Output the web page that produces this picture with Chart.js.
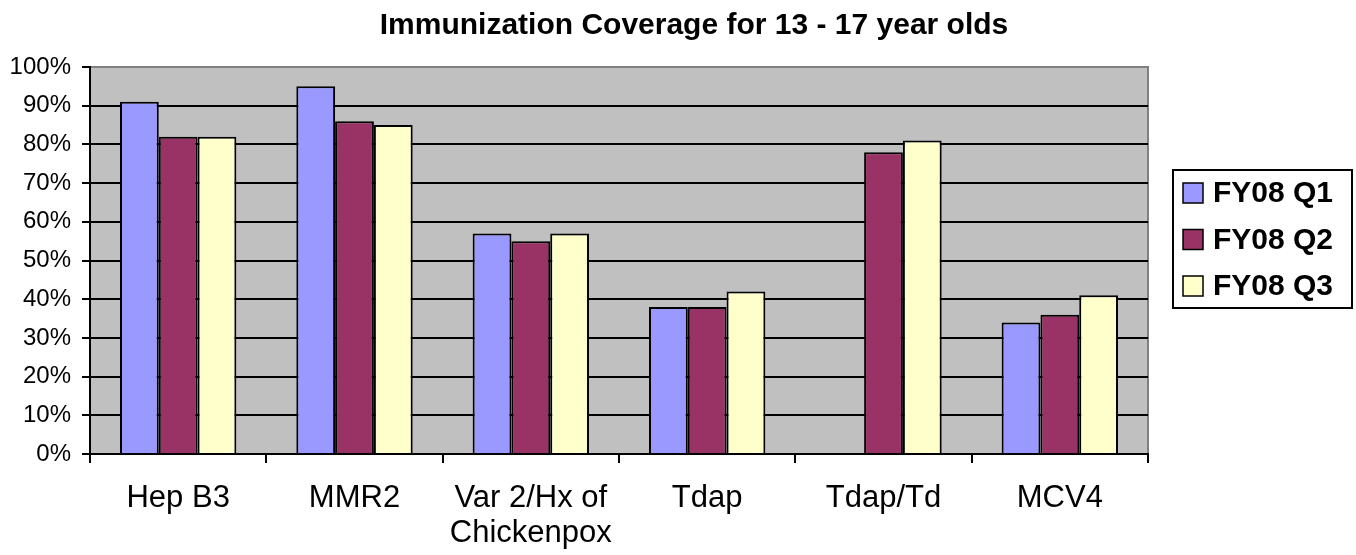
<!DOCTYPE html>
<html>
<head>
<meta charset="utf-8">
<title>Immunization Coverage</title>
<script src="https://cdn.jsdelivr.net/npm/chart.js@4.4.1/dist/chart.umd.min.js"></script>
<style>
    html, body { margin: 0; padding: 0; background: #fff; }
    #wrap { width: 1356px; height: 555px; position: relative; }
</style>
</head>
<body>
<div id="wrap"><canvas id="chart"></canvas></div>
<script>
// ===== DATA =====
const categories = ['Hep B3', 'MMR2', ['Var 2/Hx of', 'Chickenpox'], 'Tdap', 'Tdap/Td', 'MCV4'];
const seriesNames = ['FY08 Q1', 'FY08 Q2', 'FY08 Q3'];
const q1Values = [91, 95, 57, 38, null, 34];
const q2Values = [82, 86, 55, 38, 78, 36];
const q3Values = [82, 85, 57, 42, 81, 41];
const yTicks = [0, 10, 20, 30, 40, 50, 60, 70, 80, 90, 100];

const FONT = "'Liberation Sans', Arial, sans-serif";

// ===== PLOT BACKGROUND + LEGEND =====
const plotBg = {
    id: 'plotBg',
    afterLayout(chart) {
        // title sits a bit right of the plot centre in the original
        const t = chart.titleBlock;
        if (t) { t.left += 75; t.right += 75; }
    },
    beforeDraw(chart) {
        const { ctx, chartArea: a } = chart;
        ctx.save();
        ctx.fillStyle = '#C0C0C0';
        ctx.fillRect(a.left, a.top, a.right - a.left, a.bottom - a.top);
        ctx.strokeStyle = '#808080';
        ctx.lineWidth = 2;
        ctx.beginPath();
        ctx.moveTo(a.left, a.top);
        ctx.lineTo(a.right, a.top);
        ctx.lineTo(a.right, a.bottom);
        ctx.stroke();
        ctx.restore();
    }
};

const boxLegend = {
    id: 'boxLegend',
    afterDraw(chart) {
        const { ctx, chartArea: a } = chart;
        const x = a.right + 25, y = 170, w = 179, h = 138;
        ctx.save();
        ctx.fillStyle = '#fff';
        ctx.fillRect(x, y, w, h);
        ctx.strokeStyle = '#000';
        ctx.lineWidth = 2;
        ctx.strokeRect(x, y, w, h);
        ctx.font = 'bold 30px ' + FONT;
        ctx.textBaseline = 'middle';
        chart.data.datasets.forEach((ds, i) => {
            const cy = y + 23 + i * 46.5;
            ctx.fillStyle = ds.backgroundColor;
            ctx.fillRect(x + 10, cy - 10, 20, 20);
            ctx.lineWidth = 1.5;
            ctx.strokeRect(x + 10, cy - 10, 20, 20);
            ctx.fillStyle = '#000';
            ctx.fillText(ds.label, x + 40, cy + 1);
        });
        ctx.restore();
    }
};

// ===== CHART =====
const colors = ['#9999FF', '#993366', '#FFFFCC'];
const seriesData = [q1Values, q2Values, q3Values];

new Chart(document.getElementById('chart'), {
    type: 'bar',
    data: {
        labels: categories,
        datasets: seriesNames.map((name, i) => ({
            label: name,
            data: seriesData[i],
            backgroundColor: colors[i],
            borderColor: '#000',
            borderWidth: 2,
            borderSkipped: 'start',
            barPercentage: 1,
            categoryPercentage: 0.66
        }))
    },
    options: {
        responsive: true,
        maintainAspectRatio: false,
        animation: false,
        layout: { padding: { left: 0, right: 208, top: 0, bottom: 0 } },
        plugins: {
            legend: { display: false },
            tooltip: { enabled: false },
            title: {
                display: true,
                fullSize: false,
                text: 'Immunization Coverage for 13 - 17 year olds',
                color: '#000',
                font: { family: FONT, size: 30, weight: 'bold' },
                padding: { top: 8, bottom: 23 }
            }
        },
        scales: {
            x: {
                grid: {
                    display: true,
                    drawOnChartArea: false,
                    offset: true,
                    color: '#000',
                    lineWidth: 2,
                    tickLength: 9
                },
                border: { display: true, color: '#000', width: 2 },
                ticks: {
                    color: '#000',
                    font: { family: FONT, size: 31, lineHeight: 1.13 },
                    padding: 18,
                    maxRotation: 0,
                    autoSkip: false
                },
                afterFit: s => { s.height = 101; }
            },
            y: {
                min: 0,
                max: 100,
                afterBuildTicks: s => { s.ticks = yTicks.map(v => ({ value: v })); },
                grid: {
                    color: ctx => ctx.tick && ctx.tick.value === 100 ? '#808080' : '#000',
                    tickColor: '#000',
                    lineWidth: 2,
                    tickLength: 8
                },
                border: { display: true, color: '#000', width: 2 },
                ticks: {
                    color: '#000',
                    font: { family: FONT, size: 24 },
                    padding: 11,
                    callback: v => v + '%'
                },
                afterFit: s => { s.width = 90; }
            }
        }
    },
    plugins: [plotBg, boxLegend]
});
</script>
</body>
</html>
